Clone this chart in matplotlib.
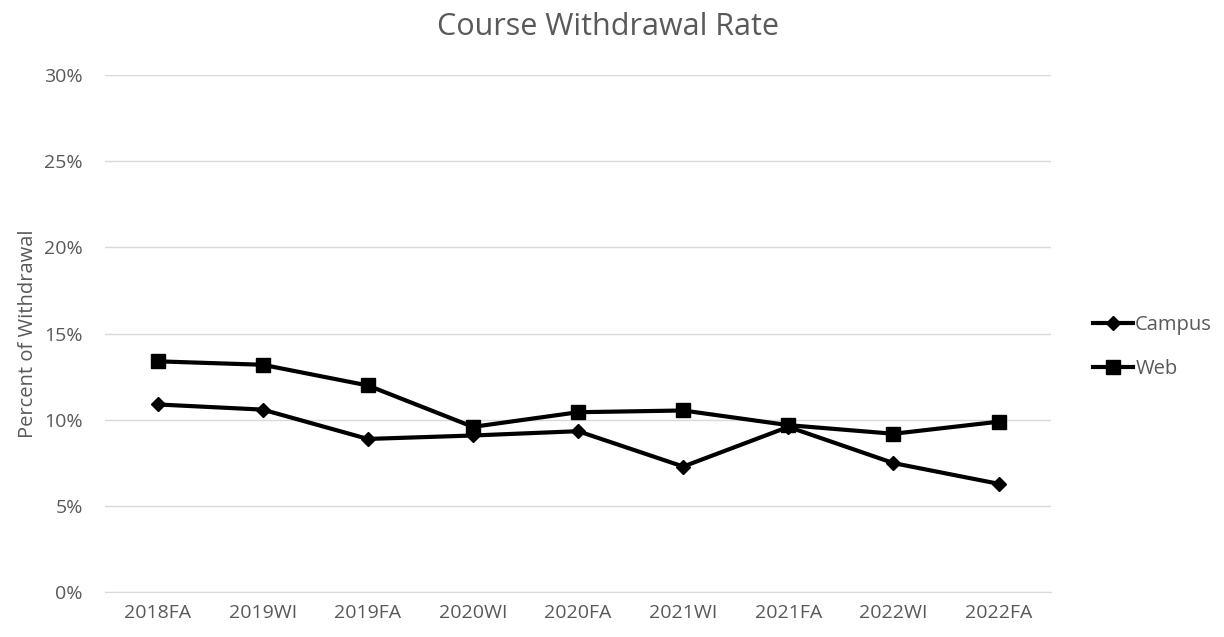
import matplotlib.pyplot as plt
from matplotlib.ticker import PercentFormatter

plt.rcParams['font.family'] = ['Open Sans', 'DejaVu Sans']

terms = ['2018FA', '2019WI', '2019FA', '2020WI', '2020FA', '2021WI', '2021FA', '2022WI', '2022FA']
campus = [10.9, 10.6, 8.9, 9.1, 9.35, 7.3, 9.6, 7.5, 6.3]
web = [13.4, 13.2, 12.0, 9.6, 10.45, 10.55, 9.7, 9.2, 9.9]

grey = '#595959'

fig = plt.figure(figsize=(12.24, 6.37), dpi=100)
ax = fig.add_axes([0.0858, 0.0699, 0.773, 0.8124])

x = range(len(terms))
ax.plot(x, campus, color='black', lw=3, marker='D', markersize=7.5, label='Campus')
ax.plot(x, web, color='black', lw=3, marker='s', markersize=9.5, label='Web')

ax.set_xlim(-0.5, len(terms) - 0.5)
ax.set_ylim(0, 30)
ax.set_yticks([0, 5, 10, 15, 20, 25, 30])
ax.yaxis.set_major_formatter(PercentFormatter(decimals=0))
ax.set_xticks(list(x))
ax.set_xticklabels(terms)
ax.grid(axis='y', color='#d9d9d9', lw=1)
ax.set_axisbelow(True)
for s in ['top', 'right', 'left']:
    ax.spines[s].set_visible(False)
ax.spines['bottom'].set_color('#d9d9d9')
ax.tick_params(length=0, labelsize=14, colors=grey, pad=8)
ax.tick_params(axis='y', pad=16)

ax.set_ylabel('Percent of Withdrawal', fontsize=14.5, color=grey, labelpad=4)
fig.text(0.497, 0.957, 'Course Withdrawal Rate', ha='center', va='center', fontsize=22, color=grey)

ax.legend(loc='center left', bbox_to_anchor=(1.025, 0.475), frameon=False, fontsize=14.5,
          labelcolor=grey, handlelength=2.0, handletextpad=0.1, labelspacing=1.2)

fig.savefig('out.png', dpi=100)
